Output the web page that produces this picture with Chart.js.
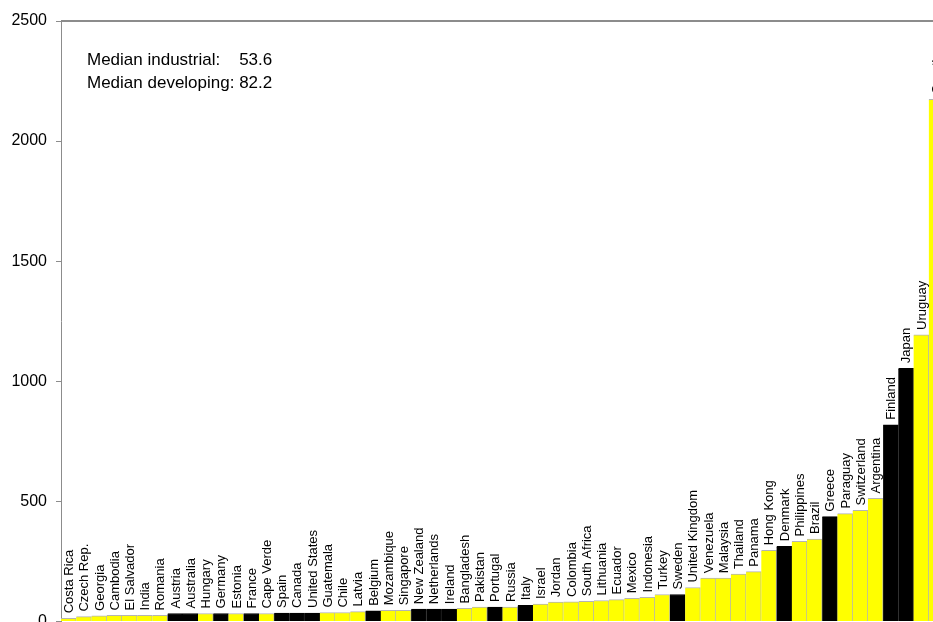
<!DOCTYPE html>
<html>
<head>
<meta charset="utf-8">
<script src="https://cdn.jsdelivr.net/npm/chart.js@4/dist/chart.umd.min.js"></script>
<style>
  html, body { margin: 0; padding: 0; background: #fff; overflow: hidden; }
  #wrap { position: absolute; left: 0; top: 0; width: 944px; height: 640px; }
</style>
</head>
<body>
<div id="wrap"><canvas id="chart"></canvas></div>
<script>
// countries, sorted by value
const countries = [
  'Costa Rica', 'Czech Rep.', 'Georgia', 'Cambodia', 'El Salvador', 'India', 'Romania',
  'Austria', 'Australia', 'Hungary', 'Germany', 'Estonia', 'France', 'Cape Verde',
  'Spain', 'Canada', 'United States', 'Guatemala', 'Chile', 'Latvia', 'Belgium',
  'Mozambique', 'Singapore', 'New Zealand', 'Netherlands', 'Ireland', 'Bangladesh',
  'Pakistan', 'Portugal', 'Russia', 'Italy', 'Israel', 'Jordan', 'Colombia',
  'South Africa', 'Lithuania', 'Ecuador', 'Mexico', 'Indonesia', 'Turkey', 'Sweden',
  'United Kingdom', 'Venezuela', 'Malaysia', 'Thailand', 'Panama', 'Hong Kong',
  'Denmark', 'Philippines', 'Brazil', 'Greece', 'Paraguay', 'Switzerland',
  'Argentina', 'Finland', 'Japan', 'Uruguay', 'Croatia'
]

const values = [
  13, 20, 23, 25, 25, 25, 25,
  33, 33, 33, 33, 33, 33, 33,
  35, 35, 35, 37, 37, 41, 44,
  46, 46, 51, 51, 51, 54,
  60, 60, 60, 67, 72, 80, 81,
  84, 87, 91, 96, 100, 112, 112,
  141, 180, 180, 197, 207, 296,
  313, 333, 343, 436, 449, 462,
  512, 819, 1054, 1193, 2174
]

// 1 = industrial (black), 0 = developing (yellow)
const industrial = [
  0, 0, 0, 0, 0, 0, 0,
  1, 1, 0, 1, 0, 1, 0,
  1, 1, 1, 0, 0, 0, 1,
  0, 0, 1, 1, 1, 0,
  0, 1, 0, 1, 0, 0, 0,
  0, 0, 0, 0, 0, 0, 1,
  0, 0, 0, 0, 0, 0,
  1, 0, 0, 1, 0, 0,
  0, 1, 1, 0, 0
]

const yTicks = [0, 500, 1000, 1500, 2000, 2500]
const medianIndustrial = '53.6'
const medianDeveloping = '82.2'

const FONT = '"Liberation Sans", Arial, sans-serif'

// etiquetas verticais em cima de cada barra
const barLabels = {
  id: 'barLabels',
  afterDatasetsDraw(chart) {
    const ctx = chart.ctx
    const meta = chart.getDatasetMeta(0)
    ctx.save()
    ctx.fillStyle = '#000'
    ctx.font = '13px ' + FONT
    ctx.textAlign = 'left'
    ctx.textBaseline = 'alphabetic'
    meta.data.forEach(function(bar, i) {
      ctx.save()
      ctx.translate(bar.x + 4.5, bar.y - 5)
      ctx.rotate(-Math.PI / 2)
      ctx.fillText(countries[i], 0, 0)
      ctx.restore()
    })
    ctx.restore()
  }
}

// linha de cima da área do gráfico + texto das medianas
const frameAndNote = {
  id: 'frameAndNote',
  afterDraw(chart) {
    const ctx = chart.ctx
    const a = chart.chartArea
    ctx.save()
    ctx.strokeStyle = '#8c8c8c'
    ctx.lineWidth = 2
    ctx.beginPath()
    ctx.moveTo(a.left, a.top)
    ctx.lineTo(a.right, a.top)
    ctx.stroke()

    ctx.fillStyle = '#000'
    ctx.font = '17px ' + FONT
    ctx.textBaseline = 'alphabetic'
    const x = a.left + 26
    const valueX = x + ctx.measureText('Median developing: ').width
    ctx.fillText('Median industrial:', x, a.top + 44)
    ctx.fillText(medianIndustrial, valueX, a.top + 44)
    ctx.fillText('Median developing:', x, a.top + 67)
    ctx.fillText(medianDeveloping, valueX, a.top + 67)
    ctx.restore()
  }
}

const ctx = document.getElementById('chart').getContext('2d')
new Chart(ctx, {
  type: 'bar',
  data: {
    labels: countries,
    datasets: [{
      data: values,
      backgroundColor: industrial.map(v => v ? '#000000' : '#ffff00'),
      borderColor: industrial.map(v => v ? '#000000' : '#b4b4b4'),
      borderWidth: { top: 1, right: 1, left: 0, bottom: 0 },
      borderSkipped: false,
      categoryPercentage: 1,
      barPercentage: 1
    }]
  },
  options: {
    responsive: true,
    maintainAspectRatio: false,
    animation: false,
    layout: { padding: { top: 21, bottom: 17, left: 0, right: 0 } },
    plugins: {
      legend: { display: false },
      tooltip: { enabled: false }
    },
    scales: {
      x: { display: false },
      y: {
        min: 0,
        max: 2500,
        afterFit: function(scale) { scale.width = 61 },
        afterBuildTicks: function(scale) {
          scale.ticks = yTicks.map(v => ({ value: v }))
        },
        border: { display: true, color: '#8c8c8c', width: 1 },
        grid: {
          display: true,
          drawOnChartArea: false,
          drawTicks: true,
          tickLength: 5,
          color: '#8c8c8c'
        },
        ticks: {
          color: '#000',
          padding: 9,
          font: { family: FONT, size: 16 },
          callback: function(v) { return String(v) }
        }
      }
    }
  },
  plugins: [barLabels, frameAndNote]
})
</script>
</body>
</html>
